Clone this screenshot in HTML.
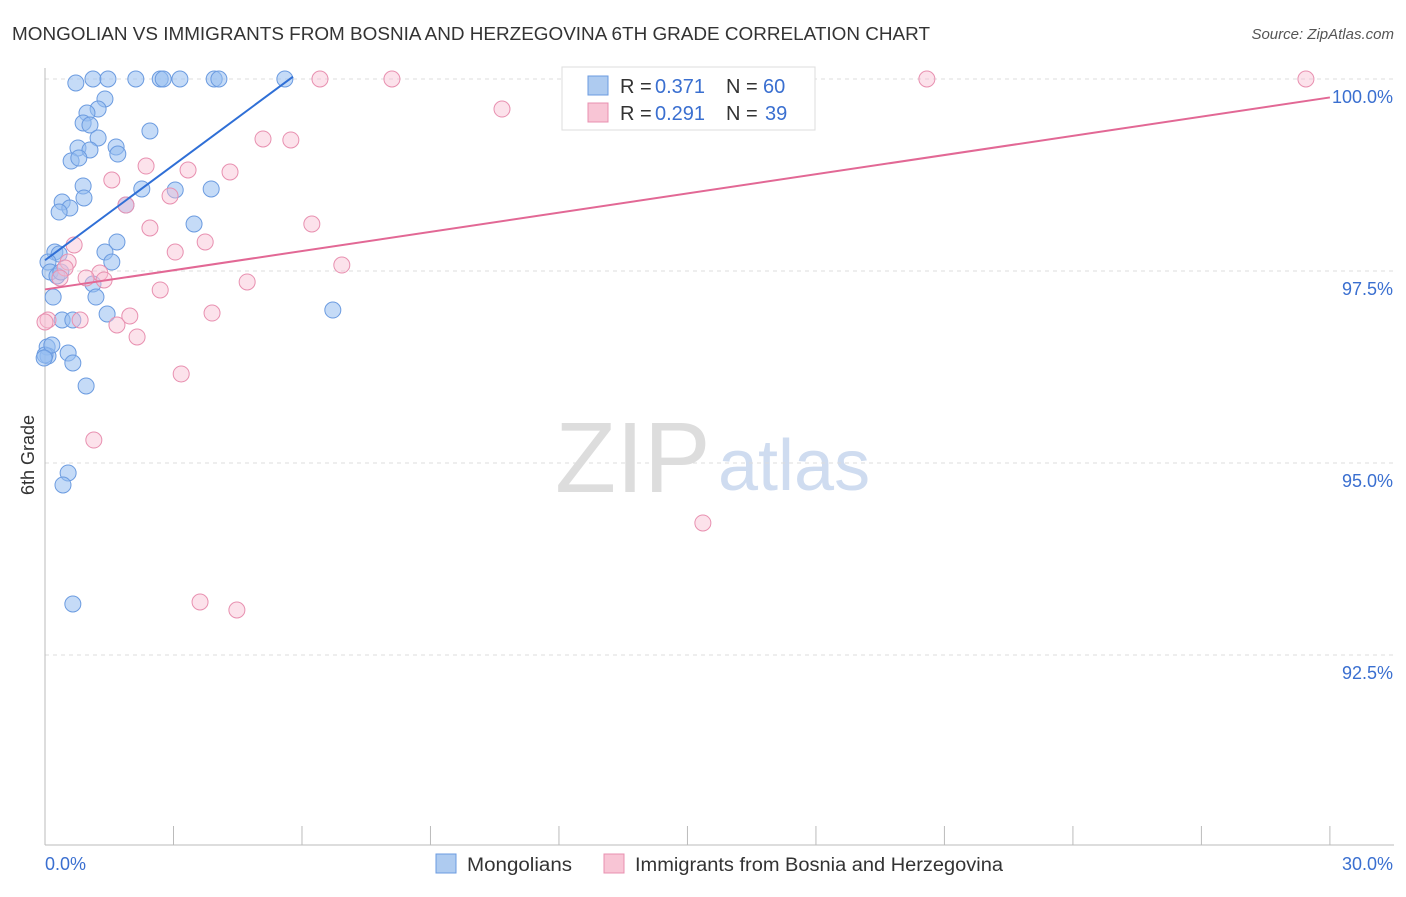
<!DOCTYPE html>
<html><head><meta charset="utf-8"><style>
body{margin:0;background:#fff;font-family:"Liberation Sans",sans-serif}
svg text{font-family:"Liberation Sans",sans-serif}
</style></head><body>
<svg id="c" width="1406" height="892" xmlns="http://www.w3.org/2000/svg">
<text x="12" y="40" font-size="18" fill="#333" textLength="918" lengthAdjust="spacingAndGlyphs">MONGOLIAN VS IMMIGRANTS FROM BOSNIA AND HERZEGOVINA 6TH GRADE CORRELATION CHART</text>
<text x="1394" y="39" font-size="15" fill="#555" text-anchor="end" font-style="italic">Source: ZipAtlas.com</text>
<text x="555" y="492" font-size="100" fill="#ddd" font-family="Liberation Serif">ZIP</text>
<text x="718" y="490" font-size="72" fill="#cfdcf0">atlas</text>
<text transform="translate(34,455) rotate(-90)" font-size="18" fill="#333" text-anchor="middle">6th Grade</text>
<g id="grid"></g><g id="pts"></g><g id="lines"></g>
<g>
<rect x="562" y="67" width="253" height="63" fill="#fff" stroke="#ddd"/>
<rect x="588" y="76" width="20" height="19" fill="#aecbf0" stroke="#6b9be0"/>
<rect x="588" y="103" width="20" height="19" fill="#f8c5d5" stroke="#e890b0"/>
<text y="93" font-size="20" fill="#333"><tspan x="620">R =</tspan><tspan x="655" fill="#3a6fd0">0.371</tspan><tspan x="726">N =</tspan><tspan x="763" fill="#3a6fd0">60</tspan></text>
<text y="120" font-size="20" fill="#333"><tspan x="620">R =</tspan><tspan x="655" fill="#3a6fd0">0.291</tspan><tspan x="726">N =</tspan><tspan x="765" fill="#3a6fd0">39</tspan></text>
</g>
<g>
<rect x="436" y="854" width="20" height="19" fill="#aecbf0" stroke="#6b9be0"/>
<text x="467" y="871" font-size="19" fill="#333" textLength="105" lengthAdjust="spacingAndGlyphs">Mongolians</text>
<rect x="604" y="854" width="20" height="19" fill="#f8c5d5" stroke="#e890b0"/>
<text x="635" y="871" font-size="19" fill="#333" textLength="368" lengthAdjust="spacingAndGlyphs">Immigrants from Bosnia and Herzegovina</text>
</g>
</svg>
<script>
const yTicks=[100,97.5,95,92.5];
const yTickLabels=["100.0%","97.5%","95.0%","92.5%"];
const xTickLabels=["0.0%","30.0%"];
const bluePx=[[93,79],[108,79],[136,79],[160,79],[163,79],[180,79],[214,79],[219,79],[285,79],[76,83],[105,99],[98,109],[87,113],[83,123],[90,125],[98,138],[150,131],[78,148],[90,150],[116,147],[118,154],[71,161],[79,158],[83,186],[142,189],[175,190],[211,189],[84,198],[62,202],[70,208],[59,212],[126,205],[194,224],[117,242],[55,252],[59,254],[105,252],[112,262],[48,262],[50,272],[57,276],[61,272],[93,284],[96,297],[53,297],[107,314],[62,320],[73,320],[333,310],[47,347],[68,353],[48,356],[73,363],[86,386],[68,473],[63,485],[73,604],[45,355],[52,345],[44,358]];
const pinkPx=[[320,79],[392,79],[927,79],[1306,79],[502,109],[263,139],[291,140],[146,166],[188,170],[230,172],[112,180],[170,196],[126,205],[150,228],[312,224],[205,242],[175,252],[74,245],[68,262],[342,265],[65,268],[100,273],[104,280],[86,278],[247,282],[160,290],[212,313],[130,316],[80,320],[117,325],[137,337],[48,320],[181,374],[94,440],[703,523],[200,602],[237,610],[45,322],[60,278]];
const blueX=bluePx.map(p=>+((p[0]-45)/42.83).toFixed(2)), blueY=bluePx.map(p=>+(100-(p[1]-79)/76.8).toFixed(3));
const pinkX=pinkPx.map(p=>+((p[0]-45)/42.83).toFixed(2)), pinkY=pinkPx.map(p=>+(100-(p[1]-79)/76.8).toFixed(3));
const blueTrend=[[0,97.64],[5.79,100.03]];
const pinkTrend=[[0,97.26],[30,99.76]];
const X=v=>45+v*42.83, Y=v=>79+(100-v)*76.8;
const NS="http://www.w3.org/2000/svg";
function mk(t,a,par){const e=document.createElementNS(NS,t);for(const k in a)e.setAttribute(k,a[k]);document.getElementById(par).appendChild(e);return e;}
yTicks.forEach((t,i)=>{
 const l=mk('line',{x1:45,x2:1394,y1:Y(t),y2:Y(t),stroke:'#ddd','stroke-dasharray':'4,4'},'grid');
 
 
 const tx=mk('text',{x:1393,y:Y(t)+24,'font-size':18,fill:'#3a6fd0','text-anchor':'end'},'grid');
 tx.textContent=yTickLabels[i];
 
 
});
mk('line',{x1:45,x2:45,y1:68,y2:845,stroke:'#bbb'},'grid');
mk('line',{x1:45,x2:1394,y1:845,y2:845,stroke:'#bbb'},'grid');
for(let i=0;i<=10;i++){mk('line',{x1:X(i*3),x2:X(i*3),y1:826,y2:845,stroke:'#bbb'},'grid');}
xTickLabels.forEach((s,i)=>{const t=mk('text',{x:i?1393:45,y:870,'font-size':18,fill:'#3a6fd0','text-anchor':i?'end':'start'},'grid');t.textContent=s;
 
 });
blueX.forEach((x,i)=>{const c=mk('circle',{cx:X(x),cy:Y(blueY[i]),r:8,fill:'rgba(150,190,240,0.55)',stroke:'#6b9be0','stroke-width':1},'pts');
 
 });
pinkX.forEach((x,i)=>{const c=mk('circle',{cx:X(x),cy:Y(pinkY[i]),r:8,fill:'rgba(248,190,210,0.45)',stroke:'#e890b0','stroke-width':1},'pts');
 
 });
const b=mk('line',{x1:X(blueTrend[0][0]),y1:Y(blueTrend[0][1]),x2:X(blueTrend[1][0]),y2:Y(blueTrend[1][1]),stroke:'#2f6fd6','stroke-width':2},'lines');


const p=mk('line',{x1:X(pinkTrend[0][0]),y1:Y(pinkTrend[0][1]),x2:X(pinkTrend[1][0]),y2:Y(pinkTrend[1][1]),stroke:'#e26895','stroke-width':2},'lines');


</script>
</body></html>
